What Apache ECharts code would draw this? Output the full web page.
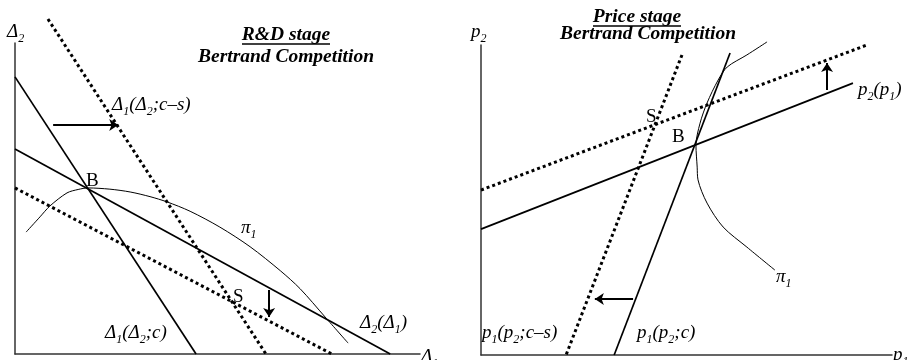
<!DOCTYPE html>
<html>
<head>
<meta charset="utf-8">
<script src="https://cdn.jsdelivr.net/npm/echarts@6/dist/echarts.min.js"></script>
<style>
  html, body { margin: 0; background: #fff; }
  #chart { width: 917px; height: 360px; }
</style>
</head>
<body>
<div id="chart"></div>
<script>
// R&D stage (left panel), axes in 0..10 units
const rdReactCs = [[0.83, 10.77], [6.32, 0]];   // Δ1(Δ2;c–s), dotted
const rdReactC = [[0, 8.91], [4.56, 0]];        // Δ1(Δ2;c)
const rdReact2 = [[0, 6.59], [9.45, 0]];        // Δ2(Δ1)
const rdReact2s = [[0, 5.34], [7.98, 0]];       // shifted Δ2, dotted
const rdIso = [[0.28, 3.92], [0.63, 4.41], [0.88, 4.76], [1.31, 5.18], [1.59, 5.29], [1.84, 5.34],
  [2.39, 5.3], [2.9, 5.21], [3.4, 5.06], [3.83, 4.89], [4.41, 4.59], [5.16, 4.08], [5.92, 3.45],
  [6.68, 2.68], [7.18, 2.1], [7.81, 1.19], [8.39, 0.35]];
const rdArrowRight = [[0.96, 7.36], [2.6, 7.36]];
const rdArrowDown = [[6.4, 2.06], [6.4, 1.19]];

// Price stage (right panel)
const prReact2s = [[0, 5.32], [9.39, 10.0]];    // dotted
const prReact2 = [[0, 4.06], [9.05, 8.77]];     // p2(p1)
const prReact1s = [[4.89, 9.68], [2.07, 0]];    // p1(p2;c–s), dotted
const prReact1 = [[6.06, 9.74], [3.24, 0]];     // p1(p2;c)
const prIso = [[6.96, 10.1], [6.47, 9.68], [5.99, 9.29], [5.77, 8.87], [5.5, 8.13], [5.33, 7.48],
  [5.23, 6.77], [5.26, 6.06], [5.28, 5.65], [5.5, 4.9], [5.89, 4.13], [6.47, 3.48], [7.15, 2.74]];
const prArrowUp = [[8.42, 8.55], [8.42, 9.42]];
const prArrowLeft = [[3.7, 1.81], [2.77, 1.81]];

const serif = '"Liberation Serif", "DejaVu Serif", serif';
const ink = '#000';

function axis(gi, max) {
  return {
    type: 'value', gridIndex: gi, min: 0, max: max,
    axisLine: { show: true, lineStyle: { color: '#333', width: 1.5 } },
    axisTick: { show: false }, axisLabel: { show: false }, splitLine: { show: false }
  };
}

function seg(gi, data, dotted, width) {
  return {
    type: 'line', xAxisIndex: gi, yAxisIndex: gi, data: data,
    symbol: 'none', clip: false, silent: true, animation: false,
    lineStyle: { color: ink, width: width || (dotted ? 3 : 1.7), type: dotted ? 'dotted' : 'solid' }
  };
}

function curve(gi, data) {
  let s = seg(gi, data, false, 1);
  s.smooth = 0.3;
  return s;
}

function arrow(gi, data) {
  return {
    type: 'lines', coordinateSystem: 'cartesian2d', xAxisIndex: gi, yAxisIndex: gi,
    data: [{ coords: data }], symbol: ['none', 'arrow'], symbolSize: 9,
    silent: true, animation: false,
    lineStyle: { color: ink, width: 2, opacity: 1, curveness: 0 }
  };
}

const sub = { font: 'italic 12px ' + serif, fill: ink, verticalAlign: 'bottom', padding: [0, 0, -3, 0] };

function txt(x, y, text, opt) {
  opt = opt || {};
  return {
    type: 'text', x: x, y: y, silent: true,
    style: {
      text: text,
      font: (opt.font || 'italic 19px ') + serif,
      fill: ink,
      align: opt.align || 'left', textAlign: opt.align || 'left',
      verticalAlign: 'middle', textVerticalAlign: 'middle',
      rich: { s: sub }
    }
  };
}

function underline(x1, x2, y) {
  return { type: 'line', silent: true, shape: { x1: x1, y1: y, x2: x2, y2: y }, style: { stroke: ink, lineWidth: 1.3 } };
}

const chart = echarts.init(document.getElementById('chart'));
chart.setOption({
  animation: false,
  grid: [
    { left: 15, top: 43, width: 405, height: 311 },
    { left: 481, top: 45, width: 411, height: 310 }
  ],
  xAxis: [axis(0, 10.2), axis(1, 10)],
  yAxis: [axis(0, 10), axis(1, 10)],
  series: [
    seg(0, rdReactCs, true), seg(0, rdReactC, false), seg(0, rdReact2, false), seg(0, rdReact2s, true),
    curve(0, rdIso), arrow(0, rdArrowRight), arrow(0, rdArrowDown),
    seg(1, prReact2s, true), seg(1, prReact2, false), seg(1, prReact1s, true), seg(1, prReact1, false),
    curve(1, prIso), arrow(1, prArrowUp), arrow(1, prArrowLeft)
  ],
  graphic: [
    // left
    txt(7, 32, 'Δ{s|2}'),
    txt(286, 35, 'R&D stage', { font: 'bold italic 19.5px ', align: 'center' }),
    underline(242, 330, 44),
    txt(286, 57, 'Bertrand Competition', { font: 'bold italic 19.5px ', align: 'center' }),
    txt(112, 105, 'Δ{s|1}(Δ{s|2};c–s)'),
    txt(86, 181, 'B', { font: '19px ' }),
    txt(241, 228, 'π{s|1}'),
    txt(233, 297, 'S', { font: '19px ' }),
    txt(105, 333, 'Δ{s|1}(Δ{s|2};c)'),
    txt(360, 323, 'Δ{s|2}(Δ{s|1})'),
    txt(421, 357, 'Δ{s|1}'),
    // right
    txt(471, 32, 'p{s|2}'),
    txt(637, 17, 'Price stage', { font: 'bold italic 19.5px ', align: 'center' }),
    underline(593, 681, 26),
    txt(648, 34, 'Bertrand Competition', { font: 'bold italic 19.5px ', align: 'center' }),
    txt(646, 117, 'S', { font: '19px ' }),
    txt(672, 137, 'B', { font: '19px ' }),
    txt(858, 90, 'p{s|2}(p{s|1})'),
    txt(776, 277, 'π{s|1}'),
    txt(482, 333, 'p{s|1}(p{s|2};c–s)'),
    txt(637, 333, 'p{s|1}(p{s|2};c)'),
    txt(893, 355, 'p{s|1}')
  ]
});
</script>
</body>
</html>
